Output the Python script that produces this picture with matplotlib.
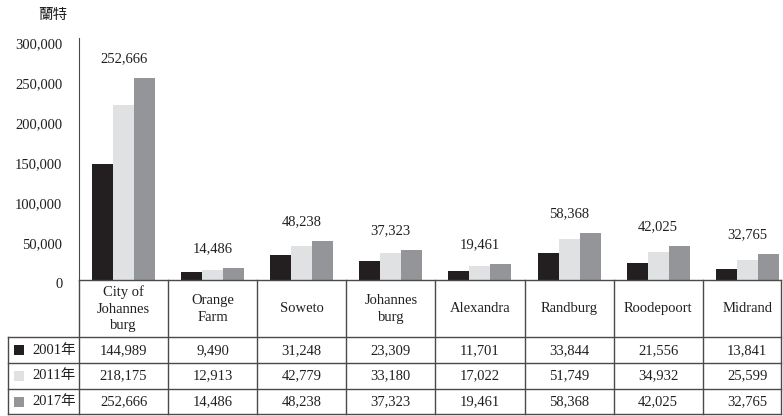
import matplotlib.pyplot as plt
from matplotlib.transforms import ScaledTranslation
import numpy as np

plt.rcParams['font.family'] = ['Liberation Serif', 'Noto Sans CJK TC']
plt.rcParams['font.size'] = 10.5

# 各區人均所得（蘭特）
districts = ['City of\nJohannes\nburg', 'Orange\nFarm', 'Soweto', 'Johannes\nburg',
             'Alexandra', 'Randburg', 'Roodepoort', 'Midrand']
years = ['2001年', '2011年', '2017年']
v2001 = [144989, 9490, 31248, 23309, 11701, 33844, 21556, 13841]
v2011 = [218175, 12913, 42779, 33180, 17022, 51749, 34932, 25599]
v2017 = [252666, 14486, 48238, 37323, 19461, 58368, 42025, 32765]
series = [v2001, v2011, v2017]
colors = ['#231f20', '#e0e1e2', '#939598']
yticks = [0, 50000, 100000, 150000, 200000, 250000, 300000]

W, H = 783, 416
line_c = '#4a4a4a'
step = 89.1                      # 每欄寬度（像素）
x0 = 79
ax_w = step * len(districts)

fig = plt.figure(figsize=(W / 100, H / 100), dpi=100)
ax = fig.add_axes([x0 / W, 136 / H, ax_w / W, 240 / H])

x = np.arange(len(districts))
bw = 0.236
for i, vals in enumerate(series):
    ax.bar(x + (i - 1) * bw, vals, width=bw, color=colors[i], linewidth=0)

for xi, v in zip(x, v2017):
    ax.annotate(f'{v:,}', (xi, v), xytext=(0, 14), textcoords='offset points',
                ha='center', va='center', color='#231f20')

ax.set_xlim(-0.5, len(districts) - 0.5)
ax.set_ylim(0, 300000)
ax.set_yticks(yticks)
ax.set_yticklabels([f'{t:,}' for t in yticks])
ax.tick_params(axis='y', length=0, pad=12, colors='#231f20')
shift = ScaledTranslation(0, -2 / 72, fig.dpi_scale_trans)
for lab in ax.get_yticklabels():
    lab.set_transform(lab.get_transform() + shift)
ax.set_xticks([])
for s in ['top', 'right', 'bottom']:
    ax.spines[s].set_visible(False)
ax.spines['left'].set_color(line_c)
ax.spines['left'].set_bounds(0, 302000)
fig.text(53 / W, 1 - 15 / H, '蘭特', ha='center', va='center', color='#231f20')

# 下方資料表
tb = fig.add_axes([x0 / W, 1 / H, ax_w / W, 135 / H])
tb.set_xlim(-0.5, len(districts) - 0.5)
tb.set_ylim(415, 280)
tb.axis('off')

def px(xp):
    return (xp - x0) / step - 0.5

right = px(781)
kw = dict(color=line_c, lw=1.0, clip_on=False)
tb.plot([-0.5, right], [280, 280], **kw)
for yy in [337.5, 363, 389, 414.5]:
    tb.plot([px(8), right], [yy, yy], **kw)
tb.plot([px(8), px(8)], [337.5, 414.5], **kw)
for k in range(len(districts)):
    tb.plot([k - 0.5, k - 0.5], [280, 414.5], **kw)
tb.plot([right, right], [280, 414.5], **kw)

for k, name in enumerate(districts):
    tb.text(k, 309, name, ha='center', va='center', linespacing=1.35,
            color='#231f20', clip_on=False)

row_y = [350.5, 376, 402]
for r, (yr, vals) in enumerate(zip(years, series)):
    tb.add_patch(plt.Rectangle((px(14), row_y[r] - 5), 10 / step, 10,
                               color=colors[r], clip_on=False, lw=0))
    tb.text(px(32), row_y[r], yr, ha='left', va='center', color='#231f20',
            clip_on=False)
    for k, v in enumerate(vals):
        tb.text(k, row_y[r], f'{v:,}', ha='center', va='center',
                color='#231f20', clip_on=False)

fig.savefig('out.png', dpi=100)
